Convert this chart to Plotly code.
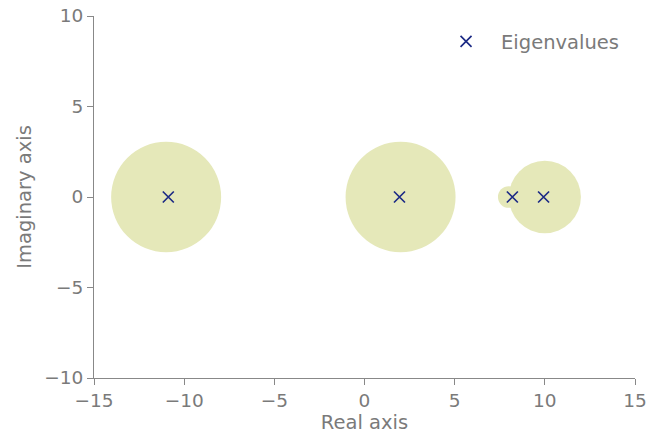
import plotly.graph_objects as go

# Gershgorin discs
centers = [-11.0, 2.0, 8.0, 10.0]
radii = [3.05, 3.05, 0.6, 2.0]

# Eigenvalues (real, imag)
eig_re = [-10.88, 1.94, 8.2, 9.93]
eig_im = [0.0, 0.0, 0.0, 0.0]

x_ticks = [-15, -10, -5, 0, 5, 10, 15]
y_ticks = [-10, -5, 0, 5, 10]

disc_color = "#e5e8b9"
gray = "#7a7a7a"
font = "DejaVu Sans"
fs = 19.5
tfs = 18.5

fig = go.Figure()

for c, r in zip(centers, radii):
    fig.add_shape(type="circle", xref="x", yref="y",
                  x0=c - r, x1=c + r, y0=-r, y1=r,
                  fillcolor=disc_color, line=dict(width=0), layer="below")

fig.add_trace(go.Scatter(
    x=eig_re, y=eig_im, mode="markers", name="Eigenvalues",
    marker=dict(symbol="x-thin", size=11, color="#1c2a85",
                line=dict(width=1.7, color="#1c2a85")),
))

axis_common = dict(
    showgrid=False, zeroline=False, showline=True, linecolor="#888888",
    linewidth=1, ticks="outside", ticklen=6, tickcolor="#888888",
    tickfont=dict(family=font, size=tfs, color=gray),
    title_font=dict(family=font, size=fs, color=gray),
    mirror=False, automargin=False,
)

fig.update_xaxes(range=[-15, 15], tickvals=x_ticks,
                 ticktext=[str(v).replace("-", "\u2212") for v in x_ticks],
                 title_text="Real axis", title_standoff=5, **axis_common)
fig.update_yaxes(range=[-10, 10], tickvals=y_ticks,
                 ticktext=[str(v).replace("-", "\u2212") for v in y_ticks],
                 title_text="Imaginary axis", title_standoff=7, **axis_common)

fig.update_layout(
    width=657, height=434,
    margin=dict(l=94, r=22, t=16, b=56, autoexpand=False),
    plot_bgcolor="white", paper_bgcolor="white",
    showlegend=True,
    legend=dict(x=0.623, y=0.983, xanchor="left", yanchor="top",
                itemwidth=60,
                bgcolor="rgba(0,0,0,0)",
                font=dict(family=font, size=fs, color=gray)),
)

fig.write_html("out.html", config={"displayModeBar": False},
               post_script="document.body.style.margin='0';document.body.style.padding='0';")
